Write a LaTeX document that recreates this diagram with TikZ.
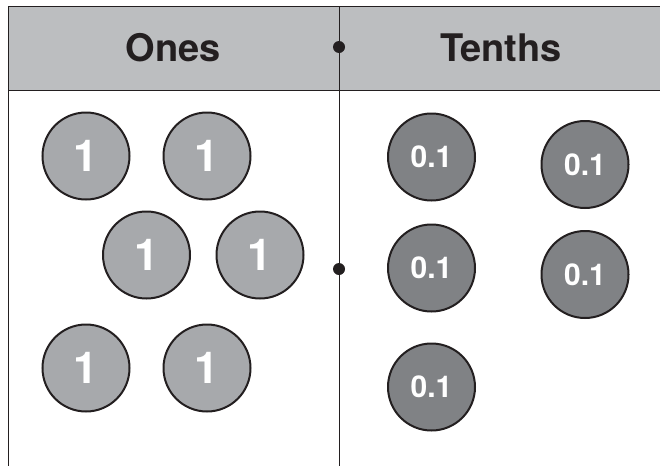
\documentclass[tikz,border=0pt]{standalone}
\usepackage{fontspec}
\setmainfont{TeX Gyre Heros}
\definecolor{hdrfill}{HTML}{BCBEC0}
\definecolor{onefill}{HTML}{A7A9AC}
\definecolor{tenthfill}{HTML}{808285}
\definecolor{ink}{HTML}{231F20}
\begin{document}
\begin{tikzpicture}[x=1pt,y=-1pt,
  onecoin/.style={circle,draw=ink,line width=2pt,fill=onefill,minimum size=87pt,inner sep=0pt,
    text=white,font=\fontsize{44}{44}\selectfont\bfseries},
  tenthcoin/.style={circle,draw=ink,line width=2pt,fill=tenthfill,minimum size=87pt,inner sep=0pt,
    text=white,font=\fontsize{30}{30}\selectfont\bfseries},
  hdr/.style={text=ink,font=\fontsize{38}{38}\selectfont\bfseries,inner sep=0pt},
  rule/.style={draw=ink,line width=1pt},
  pin/.style={circle,fill=ink,inner sep=0pt,minimum size=12pt}]
\useasboundingbox (0,0) rectangle (660,466);
\fill[hdrfill] (8,6) rectangle (660,90);
\draw[rule] (660,6) -- (8,6) -- (8,466);
\draw[rule] (8,90) -- (660,90);
\draw[rule] (339,6) -- (339,466);
\node[pin] (p1) at (339,47) {};
\node[pin] (p2) at (339,269) {};
\node[hdr] (ones) at (173.5,48) {Ones};
\node[hdr] (tenths) at (501,48) {Tenths};
\node[onecoin] (o1) at (86,156) {1};
\node[onecoin] (o2) at (207,156) {1};
\node[onecoin] (o3) at (146.5,255) {1};
\node[onecoin] (o4) at (260,255) {1};
\node[onecoin] (o5) at (86,368) {1};
\node[onecoin] (o6) at (207,368) {1};
\node[tenthcoin] (t1) at (431.5,157) {0.1};
\node[tenthcoin] (t2) at (585,164.5) {0.1};
\node[tenthcoin] (t3) at (431.5,268) {0.1};
\node[tenthcoin] (t4) at (585,274.5) {0.1};
\node[tenthcoin] (t5) at (431.5,387) {0.1};
\end{tikzpicture}
\end{document}
